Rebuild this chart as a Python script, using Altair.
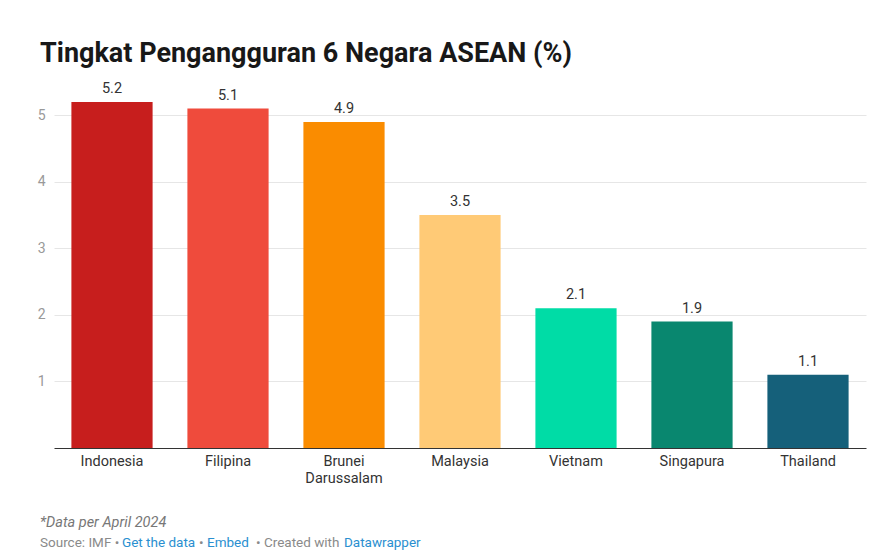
import altair as alt
import pandas as pd

countries = ["Indonesia", "Filipina", "Brunei Darussalam", "Malaysia", "Vietnam", "Singapura", "Thailand"]
rates = [5.2, 5.1, 4.9, 3.5, 2.1, 1.9, 1.1]
colors = ["#c71e1d", "#ef4b3c", "#fa8c00", "#ffca76", "#00dca6", "#09876f", "#15607a"]
y_ticks = [1, 2, 3, 4, 5]

df = pd.DataFrame({"country": countries, "rate": rates, "label": [f"{v:.1f}" for v in rates]})
one = pd.DataFrame({"a": [0]})

FONT = "Roboto"

x_enc = alt.X(
    "country:N",
    sort=countries,
    scale=alt.Scale(paddingInner=0.3, paddingOuter=0.15),
    axis=alt.Axis(
        title=None, labelAngle=0, ticks=False, domainColor="#333333", domainWidth=1,
        labelColor="#333333", labelFontSize=14.5, labelFont=FONT, labelPadding=6,
        labelExpr="datum.label == 'Brunei Darussalam' ? ['Brunei', 'Darussalam'] : datum.label",
        labelLineHeight=17,
    ),
)
y_enc = alt.Y(
    "rate:Q",
    scale=alt.Scale(domain=[0, 5.5], nice=False),
    axis=alt.Axis(
        title=None, values=y_ticks, format="d", domain=False, ticks=False, labelColor="#999999",
        labelFontSize=14, labelFont=FONT, labelPadding=9, gridColor="#e6e6e6", gridWidth=1,
    ),
)

bars = alt.Chart(df).mark_bar().encode(
    x=x_enc,
    y=y_enc,
    color=alt.Color("country:N", scale=alt.Scale(domain=countries, range=colors), legend=None),
)

values = alt.Chart(df).mark_text(
    baseline="alphabetic", dy=-9, fontSize=14.5, font=FONT, color="#333333"
).encode(x=alt.X("country:N", sort=countries), y="rate:Q", text="label:N")

def txt(s, x, y, size, color, weight="normal", style="normal"):
    return alt.Chart(one).mark_text(
        align="left", baseline="alphabetic", fontSize=size, font=FONT, color=color,
        fontWeight=weight, fontStyle=style,
    ).encode(x=alt.value(x), y=alt.value(y), text=alt.value(s))

title = txt("Tingkat Pengangguran 6 Negara ASEAN (%)", -14, -20, 27, "#181818", weight="bold")
note = txt("*Data per April 2024", -14, 445, 14.5, "#777777", style="italic")
gray = "#8a8a8a"
blue = "#2a8fd0"
Y_SRC = 465
src = [
    txt("Source: IMF •", -14, Y_SRC, 13.5, gray),
    txt("Get the data", 68, Y_SRC, 13.5, blue),
    txt("•", 145, Y_SRC, 13.5, gray),
    txt("Embed", 153, Y_SRC, 13.5, blue),
    txt("• Created with", 202, Y_SRC, 13.5, gray),
    txt("Datawrapper", 290, Y_SRC, 13.5, blue),
]

chart = alt.layer(bars, values, title, note, *src).properties(
    width=812,
    height=366,
    padding={"left": 46, "top": 74, "right": 15, "bottom": 102},
    autosize="none",
    background="white",
).configure_view(stroke=None)

chart.save("out.html", embed_options={"renderer": "svg", "actions": False})
